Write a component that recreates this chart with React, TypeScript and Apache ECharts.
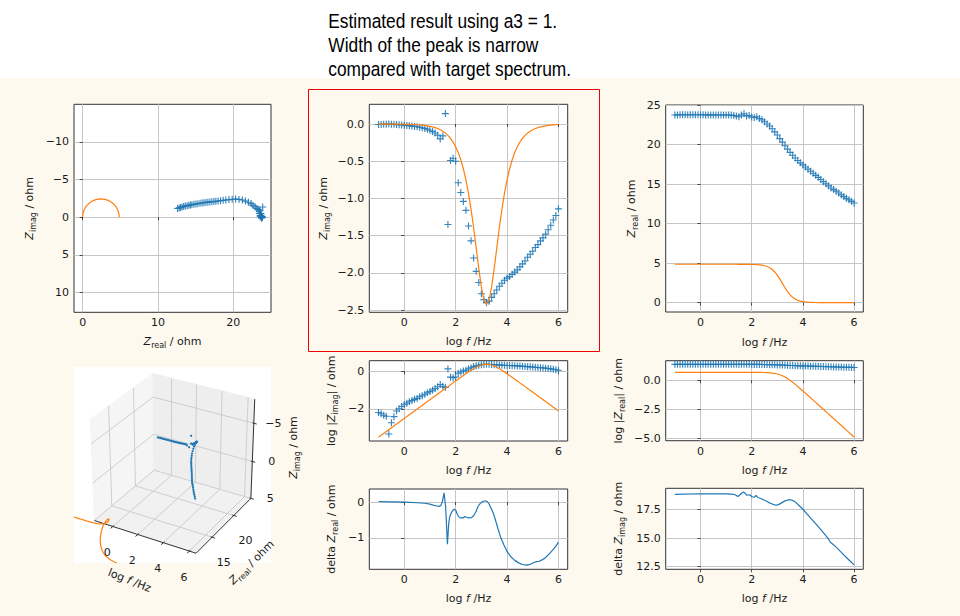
import React, { useEffect, useRef } from 'react';
import * as echarts from 'echarts';

// ---------------- data ----------------
const logF = [
  -1.0, -0.9, -0.8, -0.7, -0.6, -0.5, -0.4, -0.3, -0.2, -0.1,
  0.0, 0.1, 0.2, 0.3, 0.4, 0.5, 0.6, 0.7, 0.8, 0.9,
  1.0, 1.1, 1.2, 1.3, 1.4, 1.5, 1.6, 1.7, 1.8, 1.9,
  2.0, 2.1, 2.2, 2.3, 2.4, 2.5, 2.6, 2.7, 2.8, 2.9,
  3.0, 3.1, 3.2, 3.3, 3.4, 3.5, 3.6, 3.7, 3.8, 3.9,
  4.0, 4.1, 4.2, 4.3, 4.4, 4.5, 4.6, 4.7, 4.8, 4.9,
  5.0, 5.1, 5.2, 5.3, 5.4, 5.5, 5.6, 5.7, 5.8, 5.9,
  6.0,
];
const zRealMeas = [
  23.74, 23.75, 23.76, 23.76, 23.77, 23.77, 23.77, 23.77, 23.76, 23.76,
  23.76, 23.76, 23.75, 23.75, 23.75, 23.75, 23.74, 23.74, 23.74, 23.74,
  23.73, 23.73, 23.72, 23.67, 23.6, 23.52, 23.72, 23.9, 23.62, 23.66,
  23.48, 23.42, 23.52, 23.3, 23.12, 22.88, 22.6, 22.35, 22.0, 21.6,
  21.2, 20.75, 20.3, 19.85, 19.42, 19.0, 18.65, 18.3, 17.98, 17.68,
  17.42, 17.15, 16.88, 16.62, 16.36, 16.1, 15.85, 15.58, 15.3, 15.04,
  14.77, 14.5, 14.3, 14.1, 13.87, 13.63, 13.41, 13.19, 13.0, 12.81,
  12.6,
];
const zImagMeas = [
  -0.0063, -0.0054, -0.0045, -0.004, -0.00045, -0.0018, -0.0038, -0.0076, -0.01, -0.0132,
  -0.0166, -0.02, -0.024, -0.028, -0.032, -0.036, -0.044, -0.05, -0.06, -0.071,
  -0.083, -0.1, -0.12, -0.15, -0.2, -0.16, 0.14, -1.35, -0.49, -0.46,
  -0.5, -0.79, -0.92, -1.04, -1.16, -1.37, -1.57, -1.8, -1.98, -2.13,
  -2.28, -2.36, -2.4, -2.38, -2.33, -2.28, -2.23, -2.18, -2.14, -2.1,
  -2.07, -2.05, -2.02, -1.99, -1.96, -1.92, -1.88, -1.84, -1.79, -1.75,
  -1.71, -1.66, -1.62, -1.57, -1.53, -1.48, -1.42, -1.36, -1.29, -1.23,
  -1.14,
];
const zRealModel = [
  4.85, 4.85, 4.85, 4.85, 4.85, 4.85, 4.85, 4.85, 4.85, 4.85,
  4.85, 4.85, 4.85, 4.85, 4.85, 4.85, 4.85, 4.85, 4.8499, 4.8499,
  4.8498, 4.8497, 4.8495, 4.8492, 4.8488, 4.8481, 4.8469, 4.8452, 4.8423, 4.8378,
  4.8308, 4.8196, 4.802, 4.7743, 4.7312, 4.6643, 4.5622, 4.4091, 4.1865, 3.8763,
  3.469, 2.9736, 2.425, 1.8763, 1.381, 0.9737, 0.6635, 0.4409, 0.2879, 0.1857,
  0.1188, 0.07567, 0.04802, 0.03041, 0.01923, 0.01215, 0.007675, 0.004845, 0.003058, 0.001931,
  0.001218, 0.000769, 0.000485, 0.000306, 0.000193, 0.000122, 0.0000769, 0.0000485, 0.0000306, 0.0000193,
  0.0000122,
];
const zImagModel = [
  -0.000306, -0.000385, -0.000485, -0.000611, -0.000769, -0.000968, -0.00122, -0.00153, -0.00193, -0.00243,
  -0.00306, -0.00385, -0.00485, -0.00611, -0.00769, -0.00968, -0.0122, -0.0153, -0.0193, -0.0243,
  -0.0306, -0.0385, -0.0485, -0.061, -0.0769, -0.0967, -0.1218, -0.1532, -0.1928, -0.2425,
  -0.3048, -0.3828, -0.4802, -0.601, -0.7498, -0.9307, -1.146, -1.3943, -1.6667, -1.9428,
  -2.1888, -2.3621, -2.425, -2.3621, -2.1888, -1.9427, -1.6667, -1.3943, -1.146, -0.9307,
  -0.7499, -0.6011, -0.4802, -0.3828, -0.3048, -0.2425, -0.1928, -0.1532, -0.1218, -0.0967,
  -0.0769, -0.061, -0.0485, -0.0385, -0.0306, -0.0243, -0.0193, -0.0153, -0.0122, -0.00968,
  -0.00769,
];
const deltaRealLogF = [
  -1.0, -0.5, 0.0, 0.5, 0.8, 1.0, 1.12, 1.22, 1.3, 1.36, 1.42, 1.48, 1.55, 1.61, 1.68,
  1.73, 1.77, 1.85, 1.93, 2.0, 2.06, 2.12, 2.2, 2.29, 2.36, 2.42, 2.5, 2.62, 2.7, 2.78,
  2.87, 2.95, 3.05, 3.15, 3.23, 3.3, 3.38, 3.46, 3.55, 3.65, 3.75, 3.88, 4.0, 4.15, 4.3,
  4.45, 4.6, 4.75, 4.9, 5.05, 5.15, 5.25, 5.38, 5.5, 5.65, 5.8, 5.9, 6.0,
];
const deltaRealVals = [
  0.02, 0.01, 0.0, -0.015, -0.03, -0.055, -0.08, -0.1, -0.11, -0.12, -0.09, 0.0, 0.26, -0.13, -1.18,
  -0.6, -0.41, -0.27, -0.2, -0.22, -0.33, -0.41, -0.44, -0.44, -0.4, -0.42, -0.44, -0.43, -0.38, -0.28,
  -0.12, -0.04, 0.02, 0.04, 0.02, -0.05, -0.17, -0.3, -0.5, -0.75, -0.98, -1.2, -1.38, -1.53, -1.63,
  -1.7, -1.745, -1.765, -1.74, -1.69, -1.665, -1.655, -1.61, -1.55, -1.44, -1.32, -1.23, -1.12,
];
const deltaImagLogF = [
  -1.0, 0.0, 1.0, 1.2, 1.32, 1.4, 1.46, 1.52, 1.6, 1.68, 1.74, 1.8, 1.86, 1.92, 2.0,
  2.06, 2.1, 2.17, 2.22, 2.28, 2.4, 2.5, 2.6, 2.7, 2.8, 2.9, 2.97, 3.05, 3.15, 3.3,
  3.42, 3.52, 3.62, 3.72, 3.83, 3.92, 4.0, 4.2, 4.4, 4.6, 4.8, 4.95, 5.02, 5.08, 5.15,
  5.3, 5.5, 5.7, 5.85, 6.0,
];
const deltaImagVals = [
  18.86, 18.91, 18.89, 18.88, 18.84, 18.76, 18.66, 18.78, 18.95, 19.06, 18.96, 18.78, 18.8, 18.82, 18.66,
  18.62, 18.6, 18.76, 18.62, 18.56, 18.45, 18.33, 18.22, 18.1, 18.0, 17.93, 17.91, 17.95, 18.08, 18.28,
  18.36, 18.38, 18.3, 18.15, 17.92, 17.72, 17.54, 17.03, 16.52, 16.0, 15.48, 15.06, 14.83, 14.6, 14.5,
  14.2, 13.73, 13.28, 12.95, 12.63,
];

// tick values
const nyqXTicks = [0, 10, 20];
const nyqYTicks = [-10, -5, 0, 5, 10];
const freqTicks = [0, 2, 4, 6];
const zImagTicks = [-2.5, -2.0, -1.5, -1.0, -0.5, 0.0];
const zRealTicks = [0, 5, 10, 15, 20, 25];
const logImagTicks = [-2, 0];
const logRealTicks = [-5.0, -2.5, 0.0];
const dRealTicks = [-1, 0];
const dImagTicks = [12.5, 15.0, 17.5];
const ticks3dX = [0, 2, 4, 6];
const ticks3dY = [15, 20];
const ticks3dZ = [-5, 0, 5];

const titleLines = [
  'Estimated result using a3 = 1.',
  'Width of the peak is narrow',
  'compared with target spectrum.',
];

// ---------------- styling ----------------
const FONT = 'DejaVu Sans';
const FS = 11;
const TXT = '#1a1a1a';
const BLUE = '#1f77b4';
const ORANGE = '#ff7f0e';
const GRIDC = '#c6c6c6';
const CREAM = '#fdf9ee';
const PLUS = 'path://M4.2,0H5.8V4.2H10V5.8H5.8V10H4.2V5.8H0V4.2H4.2Z';

const fmt = (v: number, d: number) => (v < 0 ? '\u2212' : '') + Math.abs(v).toFixed(d);

const RICH: any = {
  n: { fontFamily: FONT, fontSize: FS, lineHeight: 16, fill: TXT },
  z: { fontFamily: FONT, fontSize: FS, fontStyle: 'italic', lineHeight: 16, fill: TXT },
  s: { fontFamily: FONT, fontSize: 8, lineHeight: 8, verticalAlign: 'bottom', fill: TXT },
};

function gText(x: number, y: number, text: string, rot = 0): any {
  return {
    type: 'text', x, y, rotation: rot, z: 20, silent: true,
    style: { text, fontFamily: FONT, fontSize: FS, fill: TXT, align: 'center', verticalAlign: 'middle', rich: RICH },
  };
}

function axis(gridIndex: number, min: number, max: number, ticks: number[], dec: number, extra: any = {}): any {
  return {
    type: 'value', gridIndex, min, max, ...extra,
    axisLine: { show: false },
    axisTick: { show: true, inside: false, length: 3, customValues: ticks, lineStyle: { color: '#222', width: 0.8 } },
    axisLabel: {
      show: true, customValues: ticks, margin: 5, formatter: (v: number) => fmt(v, dec),
      fontFamily: FONT, fontSize: FS, color: TXT,
    },
    splitLine: { show: true, lineStyle: { color: GRIDC, width: 1 } },
  };
}

// ---------------- 3D perspective projection (elev 30, azim -60, dist 10) ----------------
const X3 = [-1.5, 6.5];
const Y3 = [11.5, 24.15];
const Z3 = [5.0, -8.05];
const CAM = (() => {
  const el = (30 * Math.PI) / 180, az = (-60 * Math.PI) / 180;
  const w = [Math.cos(el) * Math.cos(az), Math.cos(el) * Math.sin(az), Math.sin(el)];
  const un = Math.hypot(w[1], w[0]);
  const u = [-w[1] / un, w[0] / un, 0];
  const v = [w[1] * u[2] - w[2] * u[1], w[2] * u[0] - w[0] * u[2], w[0] * u[1] - w[1] * u[0]];
  const E = [0.5 + 10 * w[0], 0.5 + 10 * w[1], 0.5 + 10 * w[2]];
  return { u, v, w, E };
})();
const SCR = { cx: 173.85, kx: 1173.6, cy: 460.4, ky: 1157.5 };
function proj(lf: number, zr: number, zi: number) {
  const P = [(lf - X3[0]) / (X3[1] - X3[0]), (zr - Y3[0]) / (Y3[1] - Y3[0]), (zi - Z3[0]) / (Z3[1] - Z3[0])];
  const d = [P[0] - CAM.E[0], P[1] - CAM.E[1], P[2] - CAM.E[2]];
  const dot = (a: number[]) => a[0] * d[0] + a[1] * d[1] + a[2] * d[2];
  const depth = -dot(CAM.w);
  return [SCR.cx + SCR.kx * (dot(CAM.u) / depth), SCR.cy - SCR.ky * (dot(CAM.v) / depth)];
}
const BOX3 = { x0: 74, y0: 367, x1: 271, y1: 563 };

function clipSeg(p: number[], q: number[]) {
  let t0 = 0, t1 = 1;
  const dx = q[0] - p[0], dy = q[1] - p[1];
  const P = [-dx, dx, -dy, dy];
  const Q = [p[0] - BOX3.x0, BOX3.x1 - p[0], p[1] - BOX3.y0, BOX3.y1 - p[1]];
  for (let i = 0; i < 4; i++) {
    if (P[i] === 0) { if (Q[i] < 0) return null; }
    else {
      const r = Q[i] / P[i];
      if (P[i] < 0) { if (r > t1) return null; if (r > t0) t0 = r; }
      else { if (r < t0) return null; if (r < t1) t1 = r; }
    }
  }
  return { a: [p[0] + t0 * dx, p[1] + t0 * dy], b: [p[0] + t1 * dx, p[1] + t1 * dy], cutStart: t0 > 0, cutEnd: t1 < 1 };
}
function clipPolyline(pts: number[][]) {
  const out: number[][][] = [];
  let cur: number[][] = [];
  for (let i = 0; i < pts.length - 1; i++) {
    const s = clipSeg(pts[i], pts[i + 1]);
    if (!s) { if (cur.length > 1) out.push(cur); cur = []; continue; }
    if (cur.length === 0 || s.cutStart) { if (cur.length > 1) out.push(cur); cur = [s.a]; }
    cur.push(s.b);
    if (s.cutEnd) { out.push(cur); cur = []; }
  }
  if (cur.length > 1) out.push(cur);
  return out;
}

function build3DGraphics(): any[] {
  const els: any[] = [];
  const [x0, x1] = X3, [y0, y1] = Y3, [zb, zt] = Z3;
  const c = {
    ldf: proj(x0, y0, zb), rdf: proj(x1, y0, zb), rdb: proj(x1, y1, zb), ldb: proj(x0, y1, zb),
    luf: proj(x0, y0, zt), rub: proj(x1, y1, zt), lub: proj(x0, y1, zt),
  };
  els.push({ type: 'rect', shape: { x: 74, y: 367, width: 197, height: 196 }, style: { fill: '#ffffff' }, z: 1, silent: true });
  const poly = (pts: number[][], fill: string) => ({ type: 'polygon', shape: { points: pts }, style: { fill, stroke: fill, lineWidth: 1 }, z: 2, silent: true });
  els.push(poly([c.ldf, c.ldb, c.lub, c.luf], '#f5f5f5'));
  els.push(poly([c.ldb, c.rdb, c.rub, c.lub], '#eeeeee'));
  els.push(poly([c.ldf, c.rdf, c.rdb, c.ldb], '#f1f1f1'));
  const seg = (a: number[], b: number[], color: string, w: number, z: number) => ({
    type: 'line', shape: { x1: a[0], y1: a[1], x2: b[0], y2: b[1] }, style: { stroke: color, lineWidth: w }, z, silent: true,
  });
  const G3 = '#c9c9c9';
  ticks3dX.forEach((L) => {
    els.push(seg(proj(L, y0, zb), proj(L, y1, zb), G3, 0.9, 3));
    els.push(seg(proj(L, y1, zb), proj(L, y1, zt), G3, 0.9, 3));
  });
  ticks3dY.forEach((r) => {
    els.push(seg(proj(x0, r, zb), proj(x1, r, zb), G3, 0.9, 3));
    els.push(seg(proj(x0, r, zb), proj(x0, r, zt), G3, 0.9, 3));
  });
  ticks3dZ.forEach((zi) => {
    els.push(seg(proj(x0, y0, zi), proj(x0, y1, zi), G3, 0.9, 3));
    els.push(seg(proj(x0, y1, zi), proj(x1, y1, zi), G3, 0.9, 3));
  });
  const AX = '#333';
  els.push(seg(c.ldf, c.rdf, AX, 1, 4));
  els.push(seg(c.rdf, c.rdb, AX, 1, 4));
  els.push(seg(c.rdb, c.rub, AX, 1, 4));
  const unit = (a: number[], b: number[]) => { const dx = b[0] - a[0], dy = b[1] - a[1]; const n = Math.hypot(dx, dy); return [dx / n, dy / n]; };
  const vX = unit(c.ldb, c.ldf), vY = unit(c.ldf, c.rdf), vZ = unit(c.ldb, c.rdb);
  const tick = (p: number[], v: number[]) => seg([p[0] - v[0] * 1.5, p[1] - v[1] * 1.5], [p[0] + v[0] * 3, p[1] + v[1] * 3], AX, 1, 4);
  const lbl = (x: number, y: number, text: string) => ({
    type: 'text', x, y, z: 20, silent: true,
    style: { text, fontFamily: FONT, fontSize: FS, fill: TXT, align: 'center', verticalAlign: 'middle' },
  });
  ticks3dX.forEach((L) => {
    const p = proj(L, y0, zb);
    els.push(tick(p, vX));
    els.push(lbl(p[0] - 5.5, p[1] + 26.2, fmt(L, 0)));
  });
  ticks3dY.forEach((r) => {
    const p = proj(x1, r, zb);
    els.push(tick(p, vY));
    els.push(lbl(p[0] + 11.6, p[1] + 25.5, fmt(r, 0)));
  });
  ticks3dZ.forEach((zi) => {
    const p = proj(x1, y1, zi);
    els.push(tick(p, vZ));
    els.push(lbl(p[0] + 19.5, p[1] + 0.3, fmt(zi, 0)));
  });
  els.push(gText(129.5, 580.5, '{n|log }{z|f}{n| /Hz}', -0.38));
  els.push(gText(251.5, 562.5, '{z|Z}{s|real}{n| / ohm}', 0.77));
  els.push(gText(293.3, 447.5, '{z|Z}{s|imag}{n| / ohm}', Math.PI / 2));
  return els;
}

function buildOption(): any {
  const gridRects = [
    [74, 104.3, 197, 208],
    [369.3, 104.3, 198.4, 208],
    [665.7, 105, 197.6, 207],
    [369.3, 360.7, 198.4, 80.3],
    [665.7, 360.7, 197.6, 80],
    [369.3, 489, 198.4, 80.3],
    [665.7, 488.3, 197.6, 81],
  ];
  const grid = gridRects.map(([l, t, w, h]) => ({
    left: l, top: t, width: w, height: h, show: true, backgroundColor: '#ffffff',
    borderColor: '#333', borderWidth: 1, containLabel: false, outerBoundsMode: 'none',
  }));
  const xAxis = [
    axis(0, -1.15, 25.0, nyqXTicks, 0),
    axis(1, -1.36, 6.36, freqTicks, 0),
    axis(2, -1.36, 6.36, freqTicks, 0),
    axis(3, -1.36, 6.36, freqTicks, 0),
    axis(4, -1.36, 6.36, freqTicks, 0),
    axis(5, -1.36, 6.36, freqTicks, 0),
    axis(6, -1.36, 6.36, freqTicks, 0),
  ];
  const yAxis = [
    axis(0, -15, 12.65, nyqYTicks, 0, { inverse: true }),
    axis(1, -2.53, 0.265, zImagTicks, 1),
    axis(2, -1.19, 25.0, zRealTicks, 0),
    axis(3, -3.72, 0.57, logImagTicks, 0),
    axis(4, -5.23, 1.69, logRealTicks, 1),
    axis(5, -1.88, 0.37, dRealTicks, 0),
    axis(6, 12.24, 19.39, dImagTicks, 1),
  ];
  const scatter = (i: number, data: number[][]) => ({
    type: 'scatter', xAxisIndex: i, yAxisIndex: i, data, symbol: PLUS, symbolSize: 7,
    itemStyle: { color: BLUE, opacity: 0.9 }, z: 2, silent: true, animation: false,
  });
  const line = (i: number, data: number[][], color: string) => ({
    type: 'line', xAxisIndex: i, yAxisIndex: i, data, showSymbol: false, symbol: 'none',
    lineStyle: { color, width: 1.2 }, itemStyle: { color }, z: 3, silent: true, animation: false,
  });
  const lg = (v: number) => Math.log10(Math.abs(v));
  const series: any[] = [
    scatter(0, zRealMeas.map((r, i) => [r, zImagMeas[i]])),
    line(0, zRealModel.map((r, i) => [r, zImagModel[i]]), ORANGE),
    scatter(1, logF.map((l, i) => [l, zImagMeas[i]])),
    line(1, logF.map((l, i) => [l, zImagModel[i]]), ORANGE),
    scatter(2, logF.map((l, i) => [l, zRealMeas[i]])),
    line(2, logF.map((l, i) => [l, zRealModel[i]]), ORANGE),
    scatter(3, logF.map((l, i) => [l, lg(zImagMeas[i])])),
    line(3, logF.map((l, i) => [l, lg(zImagModel[i])]), ORANGE),
    scatter(4, logF.map((l, i) => [l, lg(zRealMeas[i])])),
    line(4, logF.map((l, i) => [l, lg(zRealModel[i])]), ORANGE),
    line(5, deltaRealLogF.map((l, i) => [l, deltaRealVals[i]]), BLUE),
    line(6, deltaImagLogF.map((l, i) => [l, deltaImagVals[i]]), BLUE),
    {
      type: 'custom', coordinateSystem: 'none', z: 10, silent: true, animation: false,
      data: logF.map((l, i) => [l, zRealMeas[i], zImagMeas[i]]),
      renderItem: (_p: any, api: any) => {
        const p = proj(api.value(0), api.value(1), api.value(2));
        return { type: 'circle', shape: { cx: p[0], cy: p[1], r: 1.1 }, style: { fill: BLUE } };
      },
    },
    {
      type: 'custom', coordinateSystem: 'none', z: 11, silent: true, animation: false,
      data: [[0]],
      renderItem: () => {
        const pts = logF.map((l, i) => proj(l, zRealModel[i], zImagModel[i]));
        const parts = clipPolyline(pts);
        return {
          type: 'group',
          children: parts.map((pp) => ({ type: 'polyline', shape: { points: pp }, style: { stroke: ORANGE, lineWidth: 1.2, fill: null } })),
        };
      },
    },
  ];

  const graphic: any[] = [
    { type: 'rect', shape: { x: 0, y: 0, width: 960, height: 78 }, style: { fill: '#ffffff' }, z: 0, silent: true },
    ...titleLines.map((t, i) => ({
      type: 'text', x: 328.3, y: [21.3, 45.6, 69.0][i], scaleX: 0.89, z: 20, silent: true,
      style: { text: t, fontFamily: 'Liberation Sans', fontSize: 19.5, fill: '#000', align: 'left', verticalAlign: 'middle' },
    })),
    { type: 'rect', shape: { x: 308.5, y: 89.5, width: 291, height: 262 }, style: { fill: null, stroke: '#ee0000', lineWidth: 1 }, z: 30, silent: true },
    // axis names (2D)
    gText(29.3, 208.3, '{z|Z}{s|imag}{n| / ohm}', Math.PI / 2),
    gText(172.5, 341.7, '{z|Z}{s|real}{n| / ohm}'),
    gText(323.3, 208.3, '{z|Z}{s|imag}{n| / ohm}', Math.PI / 2),
    gText(468.5, 341.7, '{n|log }{z|f}{n| /Hz}'),
    gText(631.7, 208.5, '{z|Z}{s|real}{n| / ohm}', Math.PI / 2),
    gText(764.5, 342, '{n|log }{z|f}{n| /Hz}'),
    gText(331.7, 400.8, '{n|log |}{z|Z}{s|imag}{n|| / ohm}', Math.PI / 2),
    gText(468.5, 470, '{n|log }{z|f}{n| /Hz}'),
    gText(618.3, 400.7, '{n|log |}{z|Z}{s|real}{n|| / ohm}', Math.PI / 2),
    gText(764.5, 470, '{n|log }{z|f}{n| /Hz}'),
    gText(331.7, 529.2, '{n|delta }{z|Z}{s|real}{n| / ohm}', Math.PI / 2),
    gText(468.5, 598.3, '{n|log }{z|f}{n| /Hz}'),
    gText(618.3, 528.8, '{n|delta }{z|Z}{s|imag}{n| / ohm}', Math.PI / 2),
    gText(764.5, 598, '{n|log }{z|f}{n| /Hz}'),
    ...build3DGraphics(),
  ];

  return {
    animation: false,
    backgroundColor: CREAM,
    textStyle: { fontFamily: FONT },
    grid, xAxis, yAxis, series, graphic,
  };
}

export default function App() {
  const ref = useRef<HTMLDivElement>(null);
  useEffect(() => {
    if (!ref.current) return;
    const chart = echarts.init(ref.current, null, { renderer: 'svg' });
    chart.setOption(buildOption());
    return () => chart.dispose();
  }, []);
  return <div ref={ref} style={{ position: 'fixed', left: 0, top: 0, width: 960, height: 616 }} />;
}
